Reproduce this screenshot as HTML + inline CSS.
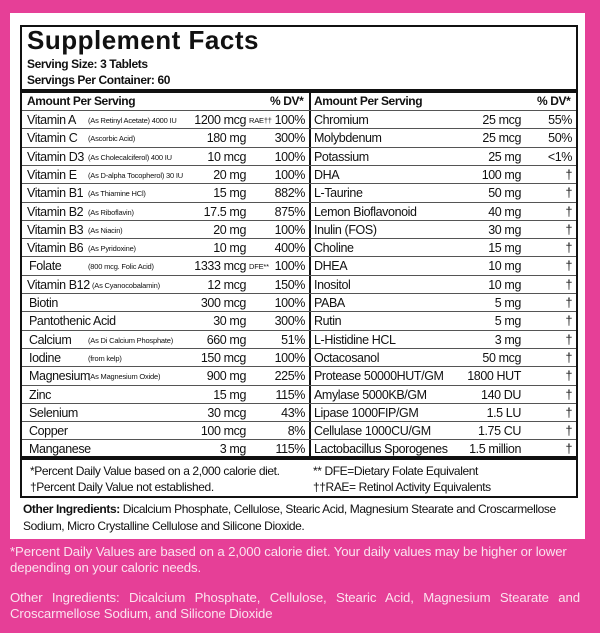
<!DOCTYPE html>
<html><head><meta charset="utf-8"><style>
*{margin:0;padding:0;box-sizing:border-box}
body{width:600px;height:633px;background:#e63f97;position:relative;overflow:hidden;font-family:"Liberation Sans",Arial,sans-serif;color:#111}
.panel{position:absolute;left:10px;top:13px;width:575px;height:526px;background:#fff}
.box{position:absolute;left:20px;top:25px;width:558px;height:473px;border:2px solid #111}
.t{position:absolute;white-space:nowrap;line-height:1}
.r{text-align:right}
.row{position:absolute;height:1px;background:#555}
.s{font-size:7.5px;letter-spacing:-0.2px}
.n{font-size:12.5px;letter-spacing:-0.4px}
.pink{position:absolute;left:10px;width:570px;color:#fbe3ef;font-size:13.2px;line-height:16px;letter-spacing:-0.1px}
</style></head><body>
<div class="panel"></div>
<div class="box"></div>
<div class="t" style="left:27px;top:27px;font-size:26px;font-weight:bold;letter-spacing:0.5px">Supplement Facts</div>
<div class="t n" style="left:27px;top:58px;font-weight:bold;font-size:12px">Serving Size: 3 Tablets</div>
<div class="t n" style="left:27px;top:74px;font-weight:bold;font-size:12px">Servings Per Container: 60</div>
<div style="position:absolute;left:22px;top:89px;width:554px;height:4px;background:#111"></div>
<div style="position:absolute;left:309px;top:93px;width:2px;height:365px;background:#111"></div>
<div style="position:absolute;left:22px;top:456px;width:554px;height:4px;background:#111"></div>
<div class="t n" style="left:27px;top:95px;font-weight:bold;font-size:12px">Amount Per Serving</div>
<div class="t n" style="left:270px;top:95px;font-weight:bold;font-size:12px">% DV*</div>
<div class="t n" style="left:314px;top:95px;font-weight:bold;font-size:12px">Amount Per Serving</div>
<div class="t n" style="left:537px;top:95px;font-weight:bold;font-size:12px">% DV*</div>
<div id="rows"></div>
<div class="t n" style="left:30px;top:465px;font-size:12px">*Percent Daily Value based on a 2,000 calorie diet.</div>
<div class="t n" style="left:30px;top:481px;font-size:12px">†Percent Daily Value not established.</div>
<div class="t n" style="left:313px;top:465px;font-size:12px">** DFE=Dietary Folate Equivalent</div>
<div class="t n" style="left:313px;top:481px;font-size:12px">††RAE= Retinol Activity Equivalents</div>
<div class="t n" style="left:23px;top:503px;font-size:12px"><b>Other Ingredients:</b> Dicalcium Phosphate, Cellulose, Stearic Acid, Magnesium Stearate and Croscarmellose</div>
<div class="t n" style="left:23px;top:520px;font-size:12px">Sodium, Micro Crystalline Cellulose and Silicone Dioxide.</div>
<div class="pink" style="top:544px">*Percent Daily Values are based on a 2,000 calorie diet. Your daily values may be higher or lower depending on your caloric needs.</div>
<div class="pink" style="top:590px;text-align:justify;text-align-last:left">Other Ingredients: Dicalcium Phosphate, Cellulose, Stearic Acid, Magnesium Stearate and Croscarmellose Sodium, and Silicone Dioxide</div>
<script>
var L=[["Vitamin A","(As Retinyl Acetate) 4000 IU","1200 mcg","100%","RAE††"],["Vitamin C","(Ascorbic Acid)","180 mg","300%"],["Vitamin D3","(As Cholecalciferol) 400 IU","10 mcg","100%"],["Vitamin E","(As D-alpha Tocopherol) 30 IU","20 mg","100%"],["Vitamin B1","(As Thiamine HCl)","15 mg","882%"],["Vitamin B2","(As Riboflavin)","17.5 mg","875%"],["Vitamin B3","(As Niacin)","20 mg","100%"],["Vitamin B6","(As Pyridoxine)","10 mg","400%"],["Folate","(800 mcg. Folic Acid)","1333 mcg","100%","DFE**"],["Vitamin B12","(As Cyanocobalamin)","12 mcg","150%"],["Biotin","","300 mcg","100%"],["Pantothenic Acid","","30 mg","300%"],["Calcium","(As Di Calcium Phosphate)","660 mg","51%"],["Iodine","(from kelp)","150 mcg","100%"],["Magnesium","(As Magnesium Oxide)","900 mg","225%"],["Zinc","","15 mg","115%"],["Selenium","","30 mcg","43%"],["Copper","","100 mcg","8%"],["Manganese","","3 mg","115%"]];
var R=[["Chromium","25 mcg","55%"],["Molybdenum","25 mcg","50%"],["Potassium","25 mg","<1%"],["DHA","100 mg","†"],["L-Taurine","50 mg","†"],["Lemon Bioflavonoid","40 mg","†"],["Inulin (FOS)","30 mg","†"],["Choline","15 mg","†"],["DHEA","10 mg","†"],["Inositol","10 mg","†"],["PABA","5 mg","†"],["Rutin","5 mg","†"],["L-Histidine HCL","3 mg","†"],["Octacosanol","50 mcg","†"],["Protease 50000HUT/GM","1800 HUT","†"],["Amylase 5000KB/GM","140 DU","†"],["Lipase 1000FIP/GM","1.5 LU","†"],["Cellulase 1000CU/GM","1.75 CU","†"],["Lactobacillus Sporogenes","1.5 million","†"]];
var h="",h0=111,dh=18.3;
for(var i=0;i<19;i++){var y=h0+i*dh;
 h+='<div class="row" style="left:22px;top:'+(y-1).toFixed(1)+'px;width:554px"></div>';
 var a=L[i],ty=(y+3).toFixed(1);
 var nl=/^Vitamin/.test(a[0])?27:29;
 h+='<div class="t n" style="left:'+nl+'px;top:'+ty+'px">'+a[0]+'</div>';
 if(a[1])h+='<div class="t s" style="left:'+(a[0]=="Vitamin B12"?92:88)+'px;top:'+(y+6).toFixed(1)+'px">'+a[1]+'</div>';
 h+='<div class="t n r" style="right:354px;top:'+ty+'px">'+a[2]+'</div>';
 if(a[4])h+='<div class="t s" style="left:249px;top:'+(y+6).toFixed(1)+'px">'+a[4]+'</div>';
 h+='<div class="t n r" style="right:295px;top:'+ty+'px">'+a[3]+'</div>';
 var b=R[i];
 h+='<div class="t n" style="left:314px;top:'+ty+'px">'+b[0]+'</div>';
 h+='<div class="t n r" style="right:79px;top:'+ty+'px">'+b[1]+'</div>';
 h+='<div class="t n r" style="right:28px;top:'+ty+'px">'+b[2].replace("<","&lt;")+'</div>';
}
document.getElementById("rows").innerHTML=h;
</script>
</body></html>
